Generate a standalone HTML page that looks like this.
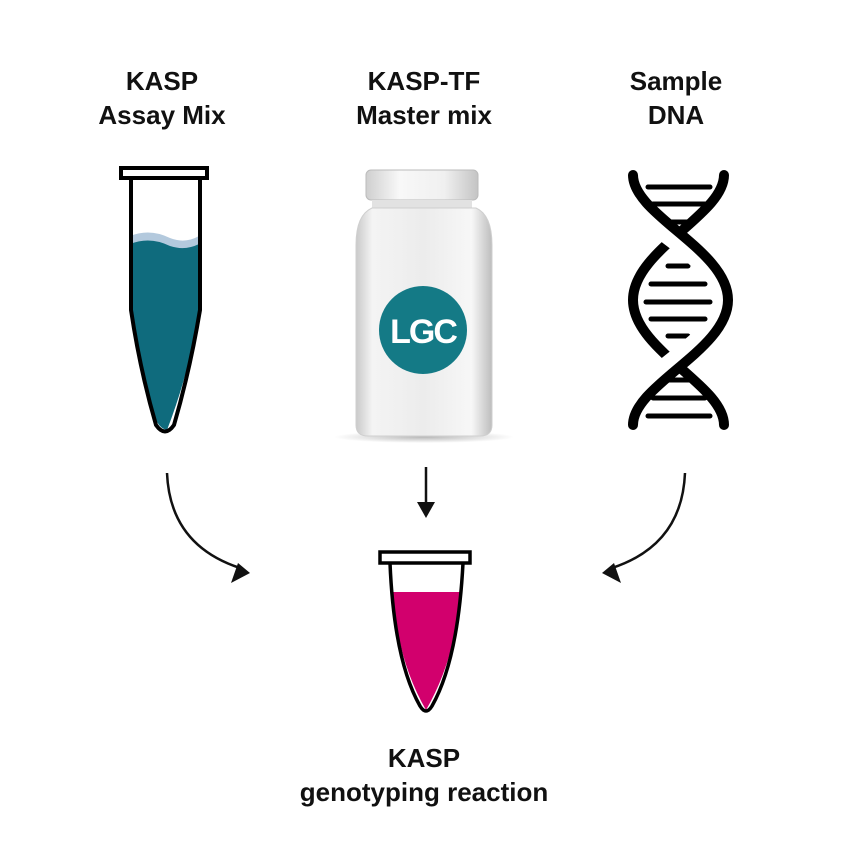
<!DOCTYPE html>
<html><head><meta charset="utf-8"><style>
html,body{margin:0;padding:0;background:#fff;}
svg{display:block;}
text{font-family:"Liberation Sans",Arial,sans-serif;font-weight:bold;font-size:26px;fill:#111;text-anchor:middle;}
</style></head><body>
<svg width="846" height="868" viewBox="0 0 846 868" xmlns="http://www.w3.org/2000/svg">
<defs>
<linearGradient id="bot" x1="0" x2="1">
<stop offset="0" stop-color="#c9c9c9"/><stop offset="0.12" stop-color="#f4f4f4"/><stop offset="0.5" stop-color="#ececec"/><stop offset="0.85" stop-color="#f7f7f7"/><stop offset="1" stop-color="#bdbdbd"/>
</linearGradient>
<linearGradient id="cap" x1="0" x2="1">
<stop offset="0" stop-color="#cfcfcf"/><stop offset="0.3" stop-color="#f8f8f8"/><stop offset="0.7" stop-color="#f0f0f0"/><stop offset="1" stop-color="#c4c4c4"/>
</linearGradient>
<radialGradient id="sh"><stop offset="0" stop-color="#888" stop-opacity=".6"/><stop offset="1" stop-color="#888" stop-opacity="0"/></radialGradient>
</defs>

<text x="162" y="90">KASP</text>
<text x="162" y="124">Assay Mix</text>
<text x="424" y="90">KASP-TF</text>
<text x="424" y="124">Master mix</text>
<text x="676" y="90">Sample</text>
<text x="676" y="124">DNA</text>
<text x="424" y="767">KASP</text>
<text x="424" y="801">genotyping reaction</text>

<!-- tube 1 -->
<path d="M130,236 Q150,228 170,238 Q185,244 199,236 L199,310 Q190,370 167,430 Q155,428 150,400 Q138,350 130,310 Z" fill="#b3c9dd"/>
<path d="M130,244 Q150,236 170,246 Q185,251 199,244 L199,310 Q190,370 167,430 Q155,428 150,400 Q138,350 130,310 Z" fill="#0f6b7d"/>
<path d="M131,178 L131,310 Q140,370 156,425 Q165,438 174,425 Q190,370 200,310 L200,178" fill="none" stroke="#000" stroke-width="4"/>
<rect x="121" y="168" width="86" height="10" fill="#fff" stroke="#000" stroke-width="4"/>

<!-- bottle -->
<ellipse cx="424" cy="437" rx="90" ry="6" fill="url(#sh)"/>
<rect x="366" y="170" width="112" height="30" rx="5" fill="url(#cap)" stroke="#bbb"/>
<rect x="372" y="200" width="100" height="8" fill="#e2e2e2"/>
<path d="M372,208 L476,208 Q492,215 492,245 L492,425 Q492,436 480,436 L368,436 Q356,436 356,425 L356,245 Q356,215 372,208 Z" fill="url(#bot)" stroke="#cfcfcf"/>
<circle cx="423" cy="330" r="44" fill="#147a86"/>
<text x="423" y="343" style="fill:#fff;font-size:34px;letter-spacing:-2px;">LGC</text>

<!-- DNA -->
<g fill="none" stroke="#000" stroke-linecap="round">
<g stroke-width="5">
<line x1="648" y1="187" x2="710" y2="187"/>
<line x1="653" y1="204" x2="705" y2="204"/>
<line x1="664" y1="222" x2="692" y2="222"/>
<line x1="668" y1="266" x2="688" y2="266"/>
<line x1="651" y1="284" x2="705" y2="284"/>
<line x1="646" y1="302" x2="710" y2="302"/>
<line x1="651" y1="319" x2="705" y2="319"/>
<line x1="668" y1="336" x2="688" y2="336"/>
<line x1="664" y1="380" x2="692" y2="380"/>
<line x1="653" y1="398" x2="705" y2="398"/>
<line x1="648" y1="416" x2="710" y2="416"/>
</g>
<path d="M724,175 C724,215 633,250 633,300 C633,350 724,385 724,425" stroke-width="10"/>
<path d="M652,222 C665,235 680,243 700,262" stroke="#fff" stroke-width="18" stroke-linecap="butt"/>
<path d="M700,338 C685,352 670,362 652,378" stroke="#fff" stroke-width="18" stroke-linecap="butt"/>
<path d="M633,175 C633,215 728,250 728,300 C728,350 633,385 633,425" stroke-width="10"/>
</g>

<!-- arrows -->
<path d="M167,473 Q170,545 240,568" fill="none" stroke="#111" stroke-width="2.5"/>
<path d="M250,573 L231,583 L238,563 Z" fill="#111"/>
<line x1="426" y1="467" x2="426" y2="505" stroke="#111" stroke-width="2.5"/>
<path d="M417,502 L435,502 L426,518 Z" fill="#111"/>
<path d="M685,473 Q682,545 612,568" fill="none" stroke="#111" stroke-width="2.5"/>
<path d="M602,573 L621,583 L614,563 Z" fill="#111"/>

<!-- pink tube -->
<path d="M393,592 L461,592 Q455,660 426,710 Q397,660 393,592 Z" fill="#d2006d"/>
<path d="M390,563 Q394,660 420,706 Q426,716 432,706 Q458,660 463,563" fill="none" stroke="#000" stroke-width="3.5"/>
<rect x="380" y="552" width="90" height="11" fill="#fff" stroke="#000" stroke-width="3.5"/>
</svg>
</body></html>
